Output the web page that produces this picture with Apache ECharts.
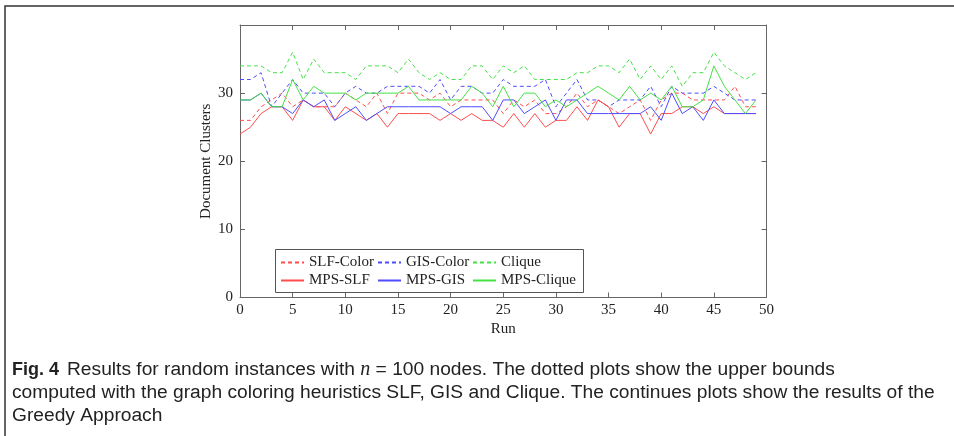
<!DOCTYPE html>
<html>
<head>
<meta charset="utf-8">
<script src="https://cdn.jsdelivr.net/npm/echarts@6/dist/echarts.min.js"></script>
<style>
  html, body { margin: 0; padding: 0; background: #fff; }
  #main { width: 954px; height: 436px; }
</style>
</head>
<body>
<div id="main"></div>
<script>
// run index (x axis)
var runs = [0, 1, 2, 3, 4, 5, 6, 7, 8, 9, 10, 11, 12, 13, 14, 15, 16, 17, 18, 19,
  20, 21, 22, 23, 24, 25, 26, 27, 28, 29, 30, 31, 32, 33, 34, 35, 36, 37, 38, 39,
  40, 41, 42, 43, 44, 45, 46, 47, 48, 49]

// upper bounds (dashed)
var slfColor = [26, 26, 28, 29, 30, 28, 29, 28, 28, 28, 30, 29, 28, 30, 27, 30, 30, 30, 29, 30,
  28, 29, 29, 29, 29, 27, 29, 28, 29, 27, 27, 28, 30, 28, 29, 28, 27, 28, 29, 26,
  29, 30, 30, 29, 29, 29, 29, 31, 28, 28]
var gisColor = [32, 32, 33, 28, 30, 32, 30, 30, 30, 28, 30, 31, 30, 30, 31, 31, 31, 31, 30, 32,
  29, 31, 31, 30, 30, 32, 31, 31, 31, 32, 28, 30, 32, 29, 29, 28, 29, 29, 29, 31,
  28, 31, 30, 30, 30, 31, 30, 29, 29, 29]
var clique = [34, 34, 34, 33, 33, 36, 32, 35, 33, 33, 33, 32, 34, 34, 34, 33, 35, 33, 32, 33,
  32, 32, 34, 34, 32, 34, 33, 34, 32, 32, 32, 32, 33, 33, 34, 34, 33, 35, 32, 34,
  32, 34, 31, 33, 33, 36, 34, 33, 32, 33]

// greedy approach (solid)
var mpsSlf = [24, 25, 27, 28, 28, 26, 29, 28, 28, 26, 28, 27, 26, 27, 25, 27, 27, 27, 27, 26,
  27, 26, 27, 26, 26, 25, 27, 25, 27, 25, 26, 26, 28, 26, 29, 28, 25, 27, 27, 24,
  27, 27, 28, 28, 27, 28, 27, 27, 27, 27]
var mpsGis = [29, 29, 30, 28, 28, 27, 29, 28, 29, 26, 27, 28, 26, 27, 28, 28, 28, 28, 28, 28,
  27, 28, 28, 28, 26, 29, 29, 27, 28, 29, 26, 29, 29, 27, 27, 27, 27, 27, 27, 28,
  26, 30, 27, 28, 26, 29, 27, 27, 27, 27]
var mpsClique = [29, 29, 30, 28, 28, 32, 29, 31, 30, 30, 30, 29, 30, 30, 30, 30, 31, 29, 29, 29,
  29, 29, 31, 30, 28, 31, 28, 30, 30, 28, 29, 28, 29, 30, 31, 30, 29, 31, 29, 30,
  29, 31, 28, 28, 29, 34, 31, 29, 27, 29]

var names = ['SLF-Color', 'GIS-Color', 'Clique', 'MPS-SLF', 'MPS-GIS', 'MPS-Clique']
var values = [slfColor, gisColor, clique, mpsSlf, mpsGis, mpsClique]
var colors = ['#ff4d4d', '#4d4dff', '#45e045', '#ff4d4d', '#4d4dff', '#45e045']

var serif = 'Liberation Serif'
var sans = 'Liberation Sans'
var axisGray = '#666'

var myChart = echarts.init(document.getElementById('main'))

function pairs (arr) {
  return runs.map(function (r, i) { return [r, arr[i]] })
}

var series = names.map(function (name, k) {
  return {
    name: name,
    type: 'line',
    symbol: 'none',
    data: pairs(values[k]),
    lineStyle: { color: colors[k], width: 1, type: k < 3 ? [4, 3] : 'solid' },
    itemStyle: { color: colors[k] },
    emphasis: { disabled: true }
  }
})

// 2 rows x 3 columns, each entry its own legend so the columns line up
var legendCols = [280, 377, 472]
var legendRows = [255, 273]
var legends = names.map(function (name, k) {
  return {
    data: [name],
    left: legendCols[k % 3],
    top: legendRows[Math.floor(k / 3)],
    padding: 0,
    itemWidth: 23,
    itemHeight: 14,
    selectedMode: false,
    itemStyle: { color: 'rgba(0,0,0,0)', borderWidth: 0 },
    textStyle: { fontFamily: serif, fontSize: 15, color: '#222' }
  }
})

// pgfplots style: ticks inside, mirrored on top/right
function ticks () {
  return { show: true, inside: true, length: 5, lineStyle: { color: axisGray } }
}
function line () {
  return { show: true, onZero: false, lineStyle: { color: axisGray } }
}

var option = {
  animation: false,
  grid: { left: 240, right: 187.5, top: 25, bottom: 138.5 },
  legend: legends,
  xAxis: [
    {
      type: 'value',
      min: 0,
      max: 50,
      interval: 5,
      name: 'Run',
      nameLocation: 'middle',
      nameGap: 24,
      nameMoveOverlap: false,
      nameTextStyle: { fontFamily: serif, fontSize: 15, color: '#222' },
      axisLine: line(),
      axisTick: ticks(),
      axisLabel: { fontFamily: serif, fontSize: 15, color: '#222', margin: 5 },
      splitLine: { show: false }
    },
    {
      type: 'value',
      position: 'top',
      min: 0,
      max: 50,
      interval: 5,
      axisLine: line(),
      axisTick: ticks(),
      axisLabel: { show: false },
      splitLine: { show: false }
    }
  ],
  yAxis: [
    {
      type: 'value',
      min: 0,
      max: 40,
      interval: 10,
      name: 'Document Clusters',
      nameLocation: 'middle',
      nameGap: 26,
      nameMoveOverlap: false,
      nameTextStyle: { fontFamily: serif, fontSize: 15, color: '#222' },
      axisLine: line(),
      axisTick: ticks(),
      axisLabel: {
        fontFamily: serif,
        fontSize: 15,
        color: '#222',
        margin: 7,
        showMaxLabel: false
      },
      splitLine: { show: false }
    },
    {
      type: 'value',
      position: 'right',
      min: 0,
      max: 40,
      interval: 10,
      axisLine: line(),
      axisTick: ticks(),
      axisLabel: { show: false },
      splitLine: { show: false }
    }
  ],
  series: series,
  graphic: [
    // figure frame
    {
      type: 'polyline',
      shape: { points: [[5, 436], [5, 6], [954, 6]] },
      style: { stroke: '#333', lineWidth: 1.5, fill: null }
    },
    // legend box
    {
      type: 'rect',
      shape: { x: 275.5, y: 249.5, width: 308, height: 43 },
      style: { stroke: '#555', lineWidth: 1, fill: '#fff' },
      z: 1
    },
    // caption
    {
      type: 'text',
      left: 12,
      top: 360,
      style: {
        text: '{b|Fig. 4}{s|}Results for random instances with {i|n} = 100 nodes. The dotted plots show the upper bounds',
        fontFamily: sans,
        fontSize: 19.2,
        fill: '#222',
        rich: {
          b: { fontFamily: sans, fontSize: 18, fontWeight: 'bold', fill: '#222' },
          s: { width: 8 },
          i: { fontFamily: serif, fontSize: 20, fontStyle: 'italic', fill: '#222' }
        }
      }
    },
    {
      type: 'text',
      left: 12,
      top: 383,
      style: {
        text: 'computed with the graph coloring heuristics SLF, GIS and Clique. The continues plots show the results of the',
        fontFamily: sans,
        fontSize: 19.2,
        fill: '#222'
      }
    },
    {
      type: 'text',
      left: 12,
      top: 406,
      style: { text: 'Greedy Approach', fontFamily: sans, fontSize: 19.2, fill: '#222' }
    }
  ]
}
myChart.setOption(option)
</script>
</body>
</html>
